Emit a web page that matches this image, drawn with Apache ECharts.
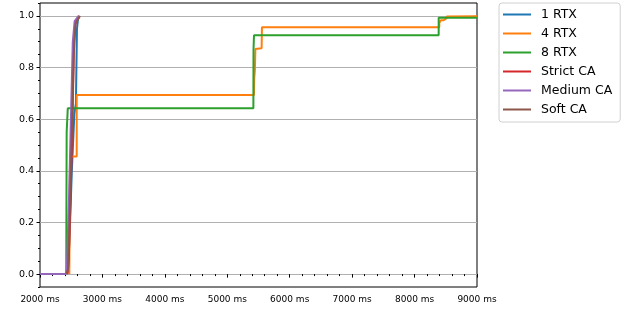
<!DOCTYPE html>
<html>
<head>
<meta charset="utf-8">
<script src="https://cdn.jsdelivr.net/npm/echarts@6/dist/echarts.min.js"></script>
<style>
    html, body { margin: 0; padding: 0; background: #fff; }
    #chart { width: 631px; height: 310px; }
</style>
</head>
<body>
<div id="chart"></div>
<script>
    // [ms, cumulative share] points
    let rtx1_data = [[2430, 0], [2470, 0.12], [2510, 0.4], [2550, 0.62], [2575, 0.66], [2592, 0.66], [2592, 0.95], [2610, 0.99], [2630, 1.0]];
    let rtx4_data = [[2470, 0], [2476, 0.3], [2482, 0.455], [2588, 0.455], [2588, 0.694], [5428, 0.694], [5432, 0.76], [5442, 0.79], [5450, 0.872], [5550, 0.875], [5555, 0.956], [8396, 0.956], [8396, 0.972], [8420, 0.972], [8420, 0.983], [8460, 0.983], [8460, 0.99], [8510, 0.99], [8515, 0.998], [9000, 0.999]];
    let rtx8_data = [[2420, 0], [2427, 0], [2427, 0.55], [2445, 0.55], [2445, 0.642], [5418, 0.642], [5420, 0.87], [5428, 0.925], [8386, 0.925], [8386, 0.993], [9000, 0.993]];
    let strict_data = [[2440, 0], [2460, 0.05], [2490, 0.3], [2520, 0.6], [2545, 0.9], [2565, 0.97], [2600, 0.99], [2630, 1.0]];
    let medium_data = [[2000, 0], [2410, 0], [2430, 0.02], [2465, 0.3], [2495, 0.6], [2525, 0.9], [2555, 0.98], [2620, 1.0]];
    let soft_data = [[2425, 0], [2450, 0.02], [2480, 0.25], [2510, 0.55], [2540, 0.85], [2570, 0.97], [2640, 1.0]];

    let series_names = ['1 RTX', '4 RTX', '8 RTX', 'Strict CA', 'Medium CA', 'Soft CA'];
    let series_data = [rtx1_data, rtx4_data, rtx8_data, strict_data, medium_data, soft_data];
    let colors = ['#1f77b4', '#ff7f0e', '#2ca02c', '#d62728', '#9467bd', '#8c564b'];

    let y_major = [0, 0.2, 0.4, 0.6, 0.8, 1.0];
    let y_minor = [-0.05, 0, 0.05, 0.1, 0.15, 0.2, 0.25, 0.3, 0.35, 0.4, 0.45, 0.5, 0.55, 0.6, 0.65, 0.7, 0.75, 0.8, 0.85, 0.9, 0.95, 1.0, 1.05];

    let font = 'DejaVu Sans';

    let options = {
        animation: false,
        color: colors,
        grid: {
            left: 40,
            top: 3,
            width: 437,
            height: 284,
            show: true,
            borderColor: '#000',
            borderWidth: 1,
            backgroundColor: '#fff'
        },
        legend: {
            orient: 'vertical',
            left: 499,
            top: 3,
            padding: [4, 8, 5, 4],
            itemWidth: 28,
            itemHeight: 2,
            itemGap: 4,
            icon: 'rect',
            borderColor: '#d0d0d0',
            borderWidth: 1,
            borderRadius: 3,
            textStyle: {
                fontFamily: font,
                fontSize: 12.5,
                color: '#000',
                lineHeight: 15,
                padding: [0, 0, 0, 5]
            },
            data: series_names
        },
        xAxis: {
            type: 'value',
            min: 2000,
            max: 9000,
            interval: 1000,
            axisLine: { show: false },
            axisTick: { show: true, length: 3.5, lineStyle: { color: '#000' } },
            minorTick: { show: true, splitNumber: 5, length: 2, lineStyle: { color: '#000' } },
            splitLine: { show: false },
            axisLabel: {
                margin: 8,
                fontFamily: font,
                fontSize: 9,
                color: '#000',
                formatter: (v) => v + ' ms'
            }
        },
        yAxis: [
            {
                type: 'value',
                min: -0.05,
                max: 1.05,
                interval: 0.05,
                axisLine: { show: false },
                axisTick: { show: true, length: 3.5, customValues: y_major, lineStyle: { color: '#000' } },
                splitLine: { show: true, lineStyle: { color: '#b0b0b0', width: 1 } },
                axisLabel: {
                    customValues: y_major,
                    margin: 6,
                    fontFamily: font,
                    fontSize: 9.5,
                    color: '#000',
                    formatter: (v) => v.toFixed(1)
                }
            },
            {
                type: 'value',
                position: 'left',
                min: -0.05,
                max: 1.05,
                interval: 0.05,
                axisLine: { show: false },
                axisTick: { show: true, length: 2, customValues: y_minor, lineStyle: { color: '#000' } },
                splitLine: { show: false },
                axisLabel: { show: false }
            }
        ],
        series: series_data.map((d, i) => ({
            name: series_names[i],
            type: 'line',
            yAxisIndex: 0,
            data: d,
            symbol: 'none',
            showSymbol: false,
            lineStyle: { width: 2, color: colors[i] },
            itemStyle: { color: colors[i] },
            z: 2 + i
        }))
    };

    let ec = echarts.init(document.getElementById('chart'));
    ec.setOption(options);
</script>
</body>
</html>
